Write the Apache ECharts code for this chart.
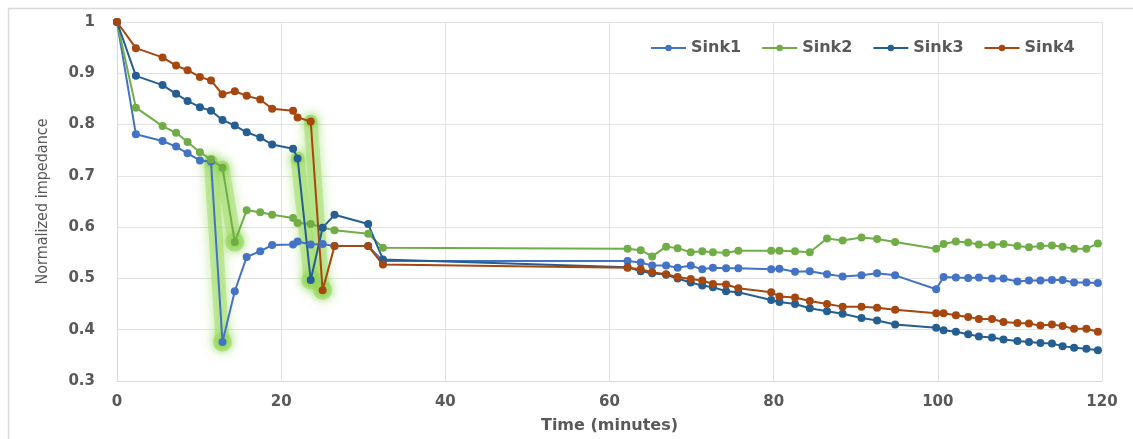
<!DOCTYPE html>
<html>
<head>
<meta charset="utf-8">
<script src="https://cdn.jsdelivr.net/npm/echarts@6/dist/echarts.min.js"></script>
<style>html,body{margin:0;padding:0;background:#fff}#c{width:1133px;height:439px}</style>
</head>
<body>
<div id="c"></div>
<script>
const times = [0, 2.3, 5.55, 7.2, 8.6, 10.1, 11.45, 12.85, 14.35, 15.8, 17.45, 18.9, 21.45, 22.0, 23.6, 25.05, 26.5, 30.6, 32.4,
  62.2, 63.8, 65.2, 66.9, 68.3, 69.9, 71.3, 72.6, 74.2, 75.7, 79.7, 80.7, 82.6, 84.4, 86.5, 88.4, 90.7, 92.6, 94.8,
  99.8, 100.7, 102.2, 103.7, 105.0, 106.6, 108.0, 109.7, 111.1, 112.5, 113.9, 115.2, 116.6, 118.1, 119.5];
const sink1 = [1.0, 0.781, 0.768, 0.757, 0.744, 0.730, 0.728, 0.376, 0.475, 0.542, 0.553, 0.565, 0.566, 0.572, 0.566, 0.567, 0.563, 0.563, 0.534,
  0.534, 0.531, 0.525, 0.525, 0.521, 0.525, 0.518, 0.521, 0.520, 0.520, 0.518, 0.519, 0.513, 0.514, 0.508, 0.504, 0.506, 0.510, 0.506,
  0.479, 0.503, 0.502, 0.501, 0.502, 0.500, 0.500, 0.494, 0.496, 0.496, 0.497, 0.497, 0.492, 0.492, 0.491];
const sink2 = [1.0, 0.833, 0.797, 0.784, 0.766, 0.746, 0.732, 0.716, 0.571, 0.633, 0.629, 0.624, 0.618, 0.608, 0.606, 0.599, 0.594, 0.587, 0.560,
  0.558, 0.555, 0.543, 0.562, 0.559, 0.551, 0.553, 0.551, 0.550, 0.554, 0.554, 0.554, 0.553, 0.551, 0.578, 0.574, 0.580, 0.577, 0.571,
  0.558, 0.567, 0.572, 0.570, 0.566, 0.565, 0.567, 0.563, 0.561, 0.563, 0.564, 0.562, 0.558, 0.558, 0.568];
const sink3 = [1.0, 0.895, 0.877, 0.860, 0.846, 0.834, 0.827, 0.809, 0.798, 0.785, 0.775, 0.761, 0.753, 0.734, 0.497, 0.599, 0.624, 0.606, 0.537,
  0.522, 0.514, 0.510, 0.507, 0.500, 0.492, 0.486, 0.483, 0.475, 0.473, 0.458, 0.454, 0.450, 0.442, 0.436, 0.431, 0.423, 0.418, 0.410,
  0.404, 0.399, 0.396, 0.391, 0.387, 0.385, 0.381, 0.378, 0.376, 0.374, 0.373, 0.368, 0.365, 0.363, 0.360];
const sink4 = [1.0, 0.949, 0.931, 0.915, 0.906, 0.893, 0.886, 0.859, 0.865, 0.856, 0.849, 0.831, 0.827, 0.814, 0.806, 0.477, 0.563, 0.563, 0.527,
  0.521, 0.518, 0.512, 0.508, 0.503, 0.499, 0.496, 0.489, 0.488, 0.481, 0.473, 0.465, 0.463, 0.456, 0.450, 0.445, 0.445, 0.443, 0.439,
  0.432, 0.432, 0.428, 0.425, 0.421, 0.421, 0.415, 0.413, 0.412, 0.408, 0.410, 0.407, 0.402, 0.402, 0.396];
const seriesNames = ['Sink1', 'Sink2', 'Sink3', 'Sink4'];
const seriesValues = [sink1, sink2, sink3, sink4];
const colors = ['#4472C4', '#70AD47', '#255E91', '#A5470F'];
// index of the highlighted (glowing) drop point in each series
const dropIndex = [7, 8, 14, 15];

const gray = '#595959';
const chart = echarts.init(document.getElementById('c'), null, {renderer: 'canvas'});

const mainSeries = seriesValues.map((vals, i) => ({
  name: seriesNames[i],
  type: 'line',
  data: times.map((t, k) => [t, vals[k]]),
  symbol: 'circle',
  symbolSize: 8,
  showSymbol: true,
  lineStyle: {color: colors[i], width: 2},
  itemStyle: {color: colors[i]},
  z: 3
}));

const glowSeries = seriesValues.map((vals, i) => {
  const d = dropIndex[i];
  return {
    name: 'glow' + i,
    type: 'line',
    data: [[times[d - 1], vals[d - 1]], [times[d], vals[d]]],
    symbol: 'circle',
    symbolSize: (v, p) => p.dataIndex === 1 ? 19 : 13,
    lineStyle: {color: 'rgba(165,222,110,0.55)', width: 14, cap: 'round', shadowBlur: 12, shadowColor: 'rgba(140,215,80,1)'},
    itemStyle: {color: 'rgba(150,215,90,0.6)', shadowBlur: 10, shadowColor: 'rgba(130,210,70,1)'},
    z: 1,
    silent: true
  };
});

chart.setOption({
  animation: false,
  backgroundColor: '#fff',
  graphic: [{
    type: 'rect', left: 6, top: 6,
    shape: {width: 1200, height: 500},
    style: {fill: 'none', stroke: '#d9d9d9', lineWidth: 1.5},
    silent: true
  }],
  grid: {left: 117, right: 31, top: 22, bottom: 55, containLabel: false},
  legend: {
    data: seriesNames,
    left: 645, top: 35,
    itemWidth: 35, itemHeight: 8, itemGap: 20,
    textStyle: {color: gray, fontSize: 16, fontWeight: 'bold', fontFamily: 'DejaVu Sans'}
  },
  xAxis: {
    type: 'value', min: 0, max: 120, interval: 20,
    name: 'Time (minutes)', nameLocation: 'middle', nameGap: 37,
    nameTextStyle: {color: gray, fontSize: 16, fontWeight: 'bold', fontFamily: 'DejaVu Sans'},
    axisLine: {show: true, lineStyle: {color: '#d9d9d9', width: 1}},
    axisTick: {show: false},
    axisLabel: {color: gray, fontSize: 15, fontWeight: 'bold', fontFamily: 'DejaVu Sans', margin: 14},
    splitLine: {show: true, lineStyle: {color: '#e3e3e3', width: 1}}
  },
  yAxis: {
    type: 'value', min: 0.3, max: 1, interval: 0.1,
    name: 'Normalized impedance', nameLocation: 'middle', nameGap: 66,
    nameTextStyle: {color: gray, fontSize: 16, fontFamily: "'Liberation Sans Narrow', 'DejaVu Sans Condensed', sans-serif"},
    axisLine: {show: true, lineStyle: {color: '#d9d9d9', width: 1}},
    axisTick: {show: false},
    axisLabel: {color: gray, fontSize: 15, fontWeight: 'bold', fontFamily: 'DejaVu Sans', margin: 22,
      formatter: v => String(Math.round(v * 10) / 10)},
    splitLine: {show: true, lineStyle: {color: '#e3e3e3', width: 1}}
  },
  series: glowSeries.concat(mainSeries)
});
</script>
</body>
</html>
